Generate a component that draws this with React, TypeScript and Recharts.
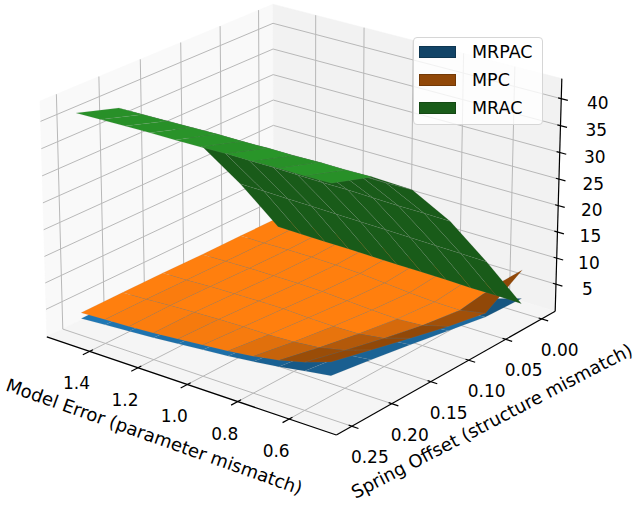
import React from "react";
import { ScatterChart, Scatter, XAxis, YAxis } from "recharts";

const W = 638;
const H = 511;

const MODEL_ERROR = [0.5, 0.6, 0.7, 0.8, 0.9, 1.0, 1.1, 1.2, 1.3, 1.4, 1.5];
const SPRING_OFFSET = [0, 0.05, 0.1, 0.15, 0.2, 0.25];

// rows follow SPRING_OFFSET, columns follow MODEL_ERROR
const MRPAC = [
  [2.5, 1.0, 1.6, 2.0, 2.3, 2.5, 2.6, 2.7, 2.7, 2.8, 2.8],
  [2.8, 2.5, 2.5, 2.6, 2.7, 2.8, 2.8, 2.8, 2.8, 2.9, 2.9],
  [4.1, 3.7, 3.3, 3.1, 3.1, 3.1, 3.0, 3.0, 2.9, 2.9, 2.9],
  [5.4, 4.9, 4.2, 3.8, 3.6, 3.5, 3.4, 3.2, 3.1, 3.0, 3.0],
  [6.6, 6.0, 5.2, 4.6, 4.2, 4.0, 3.8, 3.5, 3.3, 3.1, 3.0],
  [7.7, 7.0, 6.2, 5.6, 5.1, 4.7, 4.3, 3.9, 3.6, 3.3, 3.0],
];
const MPC = [
  [8.0, 3.7, 3.5, 3.7, 4.0, 4.2, 4.3, 4.3, 4.2, 4.1, 4.0],
  [3.5, 2.6, 2.7, 3.0, 3.4, 3.8, 4.0, 4.1, 4.1, 4.0, 4.0],
  [4.9, 3.6, 3.3, 3.5, 3.8, 4.1, 4.2, 4.2, 4.2, 4.1, 4.0],
  [6.6, 5.1, 4.4, 4.3, 4.4, 4.6, 4.6, 4.5, 4.4, 4.2, 4.1],
  [8.4, 6.8, 5.8, 5.3, 5.1, 5.1, 5.0, 4.8, 4.6, 4.3, 4.1],
  [10.2, 8.6, 7.4, 6.6, 6.0, 5.6, 5.2, 4.8, 4.5, 4.3, 4.1],
];
const MRAC = [
  [1.5, 1.6, 1.6, 1.7, 1.8, 1.8, 1.9, 2.0, 2.0, 2.1, 2.2],
  [13.3, 13.4, 13.5, 13.6, 13.7, 13.8, 13.9, 14.0, 14.1, 14.2, 14.3],
  [24.5, 24.6, 24.6, 24.7, 24.8, 24.8, 24.9, 25.0, 25.0, 25.1, 25.2],
  [33.8, 33.7, 33.7, 33.6, 33.6, 33.5, 33.5, 33.4, 33.4, 33.3, 33.2],
  [39.6, 39.5, 39.5, 39.4, 39.4, 39.3, 39.3, 39.2, 39.1, 39.0, 38.9],
  [42.0, 41.9, 41.9, 41.8, 41.8, 41.7, 41.6, 41.6, 41.5, 41.4, 41.3],
];

const X_TICKS = [0.6, 0.8, 1.0, 1.2, 1.4];
const Y_TICKS = [0, 0.05, 0.1, 0.15, 0.2, 0.25];
const Z_TICKS = [5, 10, 15, 20, 25, 30, 35, 40];

const SERIES = [
  { name: "MRPAC", rgb: [31, 119, 180], values: MRPAC },
  { name: "MPC", rgb: [255, 127, 14], values: MPC },
  { name: "MRAC", rgb: [44, 160, 44], values: MRAC },
];

// box limits and camera
const XLIM = [0.42, 1.58];
const YLIM = [-0.019, 0.269];
const ZLIM = [-0.25, 43.7];
const AZIM = 128;
const ELEV = 22.3;
const DIST = 10;
const HALF_Z = 0.345;
const SCALE = 3669;
const CX = 303;
const CY = 208.4;

type V3 = [number, number, number];
type Pt = { px: number; py: number };
type Poly = { pts: Pt[]; fill: string; stroke: string; sw: number };

const dot = (a: V3, b: V3) => a[0] * b[0] + a[1] * b[1] + a[2] * b[2];
const sub = (a: V3, b: V3): V3 => [a[0] - b[0], a[1] - b[1], a[2] - b[2]];
const cross = (a: V3, b: V3): V3 => [
  a[1] * b[2] - a[2] * b[1],
  a[2] * b[0] - a[0] * b[2],
  a[0] * b[1] - a[1] * b[0],
];
const unit = (a: V3): V3 => {
  const l = Math.hypot(a[0], a[1], a[2]) || 1;
  return [a[0] / l, a[1] / l, a[2] / l];
};

const rad = Math.PI / 180;
const ca = Math.cos(AZIM * rad), sa = Math.sin(AZIM * rad);
const ce = Math.cos(ELEV * rad), se = Math.sin(ELEV * rad);
const VIEW: V3 = [ce * ca, ce * sa, se];
const RIGHT: V3 = [-sa, ca, 0];
const UP: V3 = [-se * ca, -se * sa, ce];
const EYE: V3 = [VIEW[0] * DIST, VIEW[1] * DIST, VIEW[2] * DIST];
const LIGHT = unit([-1, 0.25, 1]);

const mid = (l: number[]) => (l[0] + l[1]) / 2;
const span = (l: number[]) => l[1] - l[0];

function toBox(x: number, y: number, z: number): V3 {
  return [
    (x - mid(XLIM)) / span(XLIM),
    (y - mid(YLIM)) / span(YLIM),
    ((z - mid(ZLIM)) / span(ZLIM)) * 2 * HALF_Z,
  ];
}

function project(x: number, y: number, z: number) {
  const b = toBox(x, y, z);
  const d = DIST - dot(b, VIEW);
  return { px: CX + (SCALE * dot(b, RIGHT)) / d, py: CY - (SCALE * dot(b, UP)) / d, depth: d };
}

const pt = (x: number, y: number, z: number): Pt => {
  const p = project(x, y, z);
  return { px: p.px, py: p.py };
};

const rgbStr = (c: number[]) => `rgb(${c.map((v) => Math.round(v)).join(",")})`;

function surfacePolys(values: number[][], rgb: number[]): Poly[] {
  const quads: { pts: Pt[]; depth: number; fill: string }[] = [];
  for (let i = 0; i < SPRING_OFFSET.length - 1; i++) {
    for (let j = 0; j < MODEL_ERROR.length - 1; j++) {
      const corners = [[j, i], [j + 1, i], [j + 1, i + 1], [j, i + 1]].map(
        ([a, b]) => [MODEL_ERROR[a], SPRING_OFFSET[b], values[b][a]] as V3
      );
      const box = corners.map((c) => toBox(c[0], c[1], c[2]));
      const n = unit(cross(sub(box[2], box[0]), sub(box[3], box[1])));
      const center: V3 = [0, 1, 2].map((k) => (box[0][k] + box[1][k] + box[2][k] + box[3][k]) / 4) as V3;
      const facing: V3 = dot(n, sub(EYE, center)) >= 0 ? n : [-n[0], -n[1], -n[2]];
      const s = dot(facing, LIGHT);
      const t = Math.max(0, Math.min(1, (s - 0.5) / 0.17));
      const f = 0.57 + 0.43 * t;
      const proj = corners.map((c) => project(c[0], c[1], c[2]));
      quads.push({
        pts: proj.map((p) => ({ px: p.px, py: p.py })),
        depth: proj.reduce((acc, p) => acc + p.depth, 0) / 4,
        fill: rgbStr(rgb.map((v) => v * f)),
      });
    }
  }
  quads.sort((a, b) => b.depth - a.depth);
  return quads.map((q) => ({ pts: q.pts, fill: q.fill, stroke: "rgba(140,140,140,0.22)", sw: 0.5 }));
}

function layer(polys: Poly[]) {
  const data = polys.flatMap((p) => p.pts);
  const render = (props: any) => {
    const pts: { x: number; y: number }[] = props.points || [];
    let k = 0;
    return (
      <g>
        {polys.map((p, i) => {
          const seg = pts.slice(k, k + p.pts.length);
          k += p.pts.length;
          const d = seg.map((q) => `${q.x},${q.y}`).join(" ");
          if (p.pts.length === 2) {
            return <polyline key={i} points={d} fill="none" stroke={p.stroke} strokeWidth={p.sw} />;
          }
          return <polygon key={i} points={d} fill={p.fill} stroke={p.stroke} strokeWidth={p.sw} strokeLinejoin="round" />;
        })}
      </g>
    );
  };
  return { data, render };
}

const seg = (a: V3, b: V3, stroke: string, sw: number): Poly => ({
  pts: [pt(a[0], a[1], a[2]), pt(b[0], b[1], b[2])],
  fill: "none",
  stroke,
  sw,
});

const [x0, x1] = XLIM;
const [y0, y1] = YLIM;
const [z0, z1] = ZLIM;

const panes: Poly[] = [
  { pts: [pt(x1, y0, z0), pt(x1, y1, z0), pt(x1, y1, z1), pt(x1, y0, z1)], fill: "#f9f9f9", stroke: "#f9f9f9", sw: 0.5 },
  { pts: [pt(x0, y0, z0), pt(x1, y0, z0), pt(x1, y0, z1), pt(x0, y0, z1)], fill: "#f2f2f2", stroke: "#f2f2f2", sw: 0.5 },
  { pts: [pt(x0, y0, z0), pt(x1, y0, z0), pt(x1, y1, z0), pt(x0, y1, z0)], fill: "#f5f5f5", stroke: "#f5f5f5", sw: 0.5 },
];

const GRID = "#b8b8b8";
const grid: Poly[] = [
  ...X_TICKS.flatMap((t) => [seg([t, y0, z0], [t, y1, z0], GRID, 1), seg([t, y0, z0], [t, y0, z1], GRID, 1)]),
  ...Y_TICKS.flatMap((t) => [seg([x0, t, z0], [x1, t, z0], GRID, 1), seg([x1, t, z0], [x1, t, z1], GRID, 1)]),
  ...Z_TICKS.flatMap((t) => [seg([x1, y0, t], [x1, y1, t], GRID, 1), seg([x0, y0, t], [x1, y0, t], GRID, 1)]),
];

const axes: Poly[] = [
  seg([x0, y1, z0], [x1, y1, z0], "#000", 1.2),
  seg([x0, y0, z0], [x0, y1, z0], "#000", 1.2),
  seg([x0, y0, z0], [x0, y0, z1], "#000", 1.2),
  ...X_TICKS.map((t) => seg([t, y1 - 0.004, z0], [t, y1 + 0.008, z0], "#000", 1.2)),
  ...Y_TICKS.map((t) => seg([x0 + 0.012, t, z0], [x0 - 0.025, t, z0], "#000", 1.2)),
  ...Z_TICKS.map((t) => seg([x0 + 0.012, y0, t], [x0 - 0.025, y0, t], "#000", 1.2)),
];

const layers = [
  layer(panes),
  layer(grid),
  layer(axes),
  ...SERIES.map((s) => layer(surfacePolys(s.values, s.rgb))),
];

type Label = Pt & { text: string; size: number; angle: number };

const xMid = pt(mid(XLIM), y1, z0);
const yMid = pt(x0, mid(YLIM), z0);

const labels: Label[] = [
  ...X_TICKS.map((t) => {
    const p = pt(t, y1, z0);
    return { px: p.px - 13, py: p.py + 32, text: t.toFixed(1), size: 17, angle: 0 };
  }),
  ...Y_TICKS.map((t) => {
    const p = pt(x0, t, z0);
    return { px: p.px + 18, py: p.py + 31, text: t.toFixed(2), size: 17, angle: 0 };
  }),
  ...Z_TICKS.map((t) => {
    const p = pt(x0, y0, t);
    return { px: p.px + 31.5 + ((t - 5) / 35) * 5, py: p.py + 4.5, text: String(t), size: 17, angle: 0 };
  }),
  { px: xMid.px - 33, py: xMid.py + 52, text: "Model Error (parameter mismatch)", size: 18, angle: 19.5 },
  { px: yMid.px + 42, py: yMid.py + 50, text: "Spring Offset (structure mismatch)", size: 18, angle: -27.5 },
];

const FONT = "'DejaVu Sans', sans-serif";

const noShape = () => <g />;

const renderLabel = (props: any) => {
  const { cx, cy, payload } = props;
  return (
    <text
      x={cx}
      y={cy}
      textAnchor="middle"
      dominantBaseline="central"
      fontFamily={FONT}
      fontSize={payload.size}
      fill="#000"
      transform={payload.angle ? `rotate(${payload.angle} ${cx} ${cy})` : undefined}
    >
      {payload.text}
    </text>
  );
};

function LegendBox() {
  return (
    <div
      style={{
        position: "absolute",
        left: 413,
        top: 37,
        width: 130,
        height: 88,
        boxSizing: "border-box",
        border: "1px solid #d6d6d6",
        borderRadius: 4,
        background: "rgba(255,255,255,0.8)",
        fontFamily: FONT,
        fontSize: 17.5,
      }}
    >
      {SERIES.map((s, i) => (
        <div key={s.name} style={{ position: "absolute", left: 5, top: 14 + i * 28 - 10, height: 20, display: "flex", alignItems: "center" }}>
          <span
            style={{
              display: "inline-block",
              width: 37,
              height: 12,
              boxSizing: "border-box",
              background: rgbStr(s.rgb.map((v) => v * 0.57)),
              border: `1px solid ${rgbStr(s.rgb.map((v) => v * 0.45))}`,
            }}
          />
          <span style={{ marginLeft: 16, color: "#000" }}>{s.name}</span>
        </div>
      ))}
    </div>
  );
}

export default function App() {
  return (
    <div style={{ position: "absolute", left: 0, top: 0, width: W, height: H, background: "#fff" }}>
      <ScatterChart width={W} height={H} margin={{ top: 0, right: 0, bottom: 0, left: 0 }}>
        <XAxis type="number" dataKey="px" domain={[0, W]} hide allowDataOverflow />
        <YAxis type="number" dataKey="py" domain={[0, H]} reversed hide allowDataOverflow />
        {layers.map((l, i) => (
          <Scatter key={i} data={l.data} line={l.render} shape={noShape} isAnimationActive={false} />
        ))}
        <Scatter data={labels} shape={renderLabel} isAnimationActive={false} />
      </ScatterChart>
      <LegendBox />
    </div>
  );
}
